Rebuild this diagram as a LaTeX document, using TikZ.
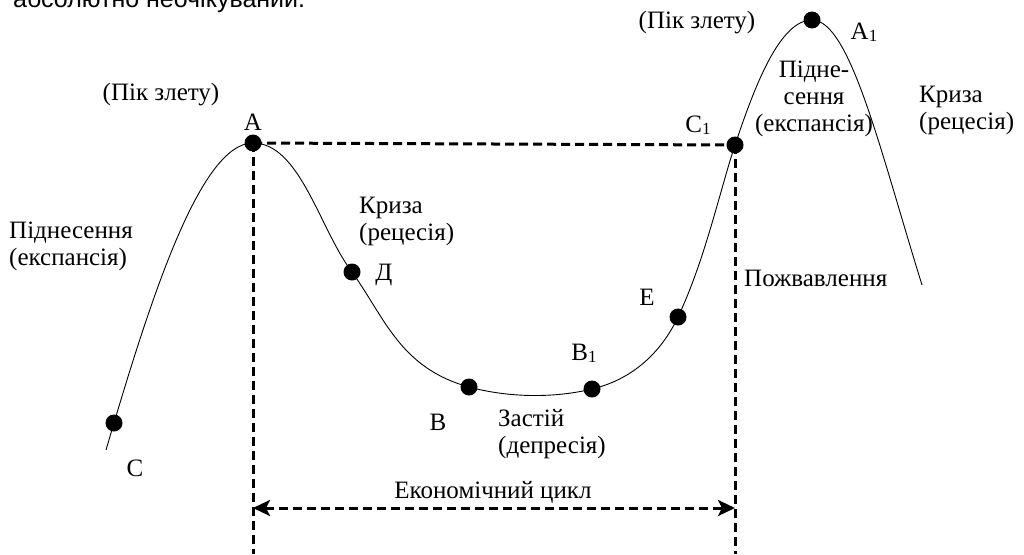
\documentclass[tikz,border=0pt]{standalone}
\usepackage{fontspec}
\setmainfont{Liberation Serif}
\newfontfamily\topfont{Liberation Sans}
\usetikzlibrary{arrows.meta}
\newcommand{\lsub}[1]{\raisebox{-0.15ex}{\fontsize{17}{17}\selectfont #1}}
\tikzset{
  dot/.style={circle,fill=black,inner sep=0pt,minimum size=17pt},
  lbl/.style={inner sep=0pt,font=\fontsize{25}{27}\selectfont},
  curve/.style={line width=0.9pt},
  dash line/.style={line width=3pt,dash pattern=on 9pt off 5pt},
  cycle arrow/.style={{Stealth[length=17pt,width=16pt,inset=4pt]}-{Stealth[length=17pt,width=16pt,inset=4pt]}},
}
\begin{document}
\begin{tikzpicture}[x=1pt,y=-1pt]
\useasboundingbox (0,0) rectangle (1024,554);
% top cut-off text
\node[inner sep=0pt,anchor=base west,font=\topfont\fontsize{25}{25}\selectfont] (top) at (13,7) {абсолютно неочікуваний.};
% curve
\draw[curve] (106,450) .. controls (150,300) and (200,143) .. (253,143)
  .. controls (300,143) and (320,230) .. (352,272)
  .. controls (385,318) and (400,368) .. (469,387)
  .. controls (510,398) and (555,398) .. (592,389)
  .. controls (630,380) and (660,355) .. (678,317)
  .. controls (705,260) and (720,190) .. (735,145)
  .. controls (755,85) and (780,20) .. (812,20)
  .. controls (850,20) and (880,150) .. (922,285);
% dots
\node[dot] (C) at (114,423) {};
\node[dot] (A) at (253,143) {};
\node[dot] (D) at (352,272) {};
\node[dot] (B) at (469,387) {};
\node[dot] (B1) at (592,389) {};
\node[dot] (E) at (678,317) {};
\node[dot] (C1) at (735,145) {};
\node[dot] (A1) at (812,20) {};
% dashed lines
\coordinate (Abot) at (253,554);
\coordinate (C1bot) at (735,554);
\coordinate (L) at (253,508);
\coordinate (R) at (735,508);
\draw[dash line] (A.center) -- (C1.center);
\draw[dash line] (A.center) -- (Abot);
\draw[dash line] (C1.center) -- (C1bot);
\draw[dash line,cycle arrow] (L) -- (R);
% labels
\node[lbl] (lpeak) at (161,95) {(Пік злету)};
\node[lbl] (lA) at (253,122) {А};
\node[lbl,anchor=west,align=left] (lexp1) at (9,246) {Піднесення\\(експансія)};
\node[lbl,anchor=west,align=left] (lcr1) at (359,221) {Криза\\(рецесія)};
\node[lbl] (lD) at (384,275) {Д};
\node[lbl] (lB) at (438,422) {В};
\node[lbl,anchor=west,align=left] (ldep) at (498,434) {Застій\\(депресія)};
\node[lbl] (lB1) at (584,353) {В\lsub{1}};
\node[lbl] (lE) at (647,297) {Е};
\node[lbl,anchor=west] (lpozh) at (744,278) {Пожвавлення};
\node[lbl] (lcycle) at (493,492) {Економічний цикл};
\node[lbl] (lC) at (135,468) {С};
\node[lbl] (lC1) at (698,125) {С\lsub{1}};
\node[lbl] (lpeak2) at (697,23) {(Пік злету)};
\node[lbl] (lA1) at (864,32) {А\lsub{1}};
\node[lbl,align=center] (lexp2) at (814,99) {Підне-\\сення\\(експансія)};
\node[lbl,anchor=west,align=left] (lcr2) at (919,110) {Криза\\(рецесія)};
\end{tikzpicture}
\end{document}
